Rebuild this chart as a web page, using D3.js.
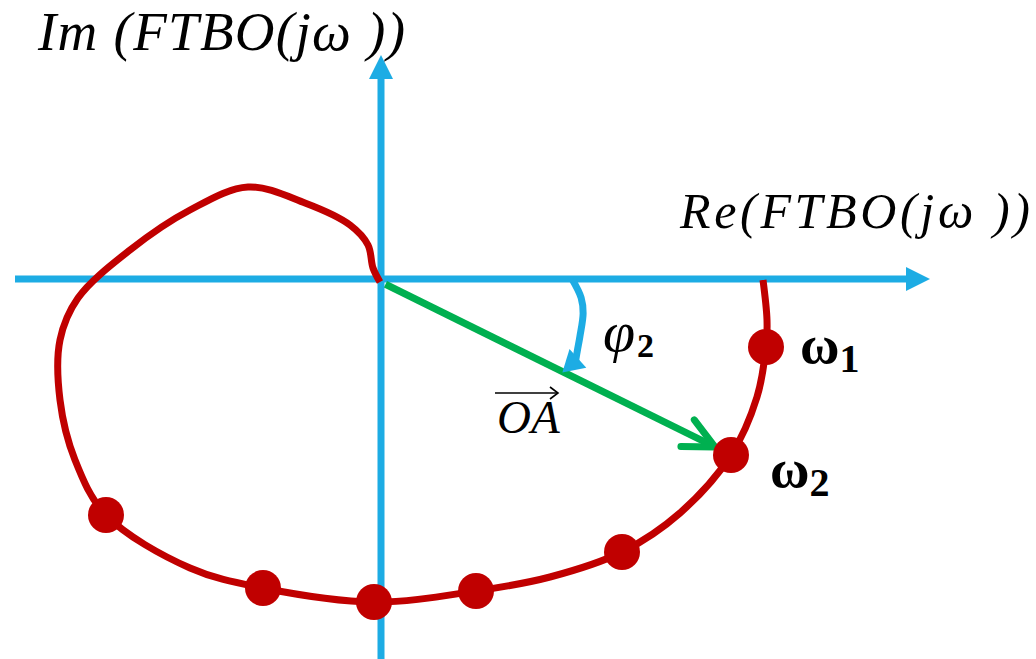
<!DOCTYPE html>
<html>
<head>
<meta charset="utf-8">
<script src="https://cdn.jsdelivr.net/npm/d3@7"></script>
<style>
  body { margin: 0; background: #fff; }
  svg { display: block; }
</style>
</head>
<body>
<div id="chart"></div>
<script>
// Nyquist locus of FTBO(jω) (1 unit = 100 px)
const curveRe = [3.82, 3.86, 3.85, 3.76, 3.50, 2.99, 2.41, 1.69, 0.95, -0.07, -1.18, -1.91,
  -2.75, -3.06, -3.21, -3.21, -3.03, -2.51, -1.91, -1.33, -0.76, -0.31, -0.13, -0.08, -0.01];
const curveIm = [-0.01, -0.41, -0.68, -1.18, -1.76, -2.34, -2.73, -2.98, -3.12, -3.23, -3.09, -2.89,
  -2.36, -1.81, -1.21, -0.61, -0.19, 0.29, 0.69, 0.92, 0.76, 0.54, 0.34, 0.11, -0.03];

// highlighted frequencies on the locus
const markerRe = [3.85, 3.50, 2.41, 0.95, -0.07, -1.18, -2.75];
const markerIm = [-0.68, -1.76, -2.73, -3.12, -3.23, -3.09, -2.36];
const markerNames = ["1", "2", "", "", "", "", ""];   // subscripts of ω
const vectorTarget = 1;                                // OA goes to ω2

// axis extents
const reAxisRange = [-3.66, 5.49];
const imAxisRange = [-3.80, 2.24];

const width = 1036, height = 659;
const blue = "#1DACE4", red = "#C00000", green = "#00B050";

const x = d3.scaleLinear().domain([-3.81, 6.55]).range([0, width]);
const y = d3.scaleLinear().domain([2.79, -3.80]).range([0, height]);

const svg = d3.select("#chart").append("svg")
  .attr("width", width)
  .attr("height", height);

// triangle arrow head, tip at (tx,ty), pointing along angle a
function headPath(tx, ty, a, len, half) {
  const bx = tx - len * Math.cos(a), by = ty - len * Math.sin(a);
  const nx = -Math.sin(a) * half, ny = Math.cos(a) * half;
  return `M${tx},${ty}L${bx + nx},${by + ny}L${bx - nx},${by - ny}Z`;
}

// axes
const x0 = x(0), y0 = y(0);
svg.append("line")
  .attr("x1", x(reAxisRange[0])).attr("x2", x(reAxisRange[1]) - 22)
  .attr("y1", y0).attr("y2", y0)
  .attr("stroke", blue).attr("stroke-width", 7);
svg.append("path")
  .attr("d", headPath(x(reAxisRange[1]), y0, 0, 24, 12))
  .attr("fill", blue);
svg.append("line")
  .attr("x1", x0).attr("x2", x0)
  .attr("y1", y(imAxisRange[0])).attr("y2", y(imAxisRange[1]) + 22)
  .attr("stroke", blue).attr("stroke-width", 7);
svg.append("path")
  .attr("d", headPath(x0, y(imAxisRange[1]), -Math.PI / 2, 24, 12))
  .attr("fill", blue);

// axis labels
svg.append("text")
  .attr("x", 38).attr("y", 50)
  .attr("textLength", 367).attr("lengthAdjust", "spacing")
  .style("font-family", "Liberation Serif, serif")
  .style("font-style", "italic")
  .style("font-size", "55px")
  .text("Im (FTBO(jω ))");
svg.append("text")
  .attr("x", 680).attr("y", 228)
  .attr("textLength", 350).attr("lengthAdjust", "spacing")
  .style("font-family", "Liberation Serif, serif")
  .style("font-style", "italic")
  .style("font-size", "50px")
  .text("Re(FTBO(jω ))");

// locus
const pts = curveRe.map((r, i) => [r, curveIm[i]]);
const line = d3.line()
  .x(d => x(d[0]))
  .y(d => y(d[1]))
  .curve(d3.curveCatmullRom.alpha(0.5));

svg.append("path")
  .attr("d", line(pts))
  .attr("fill", "none")
  .attr("stroke", red)
  .attr("stroke-width", 7);

// vector OA
const ax = x(markerRe[vectorTarget]), ay = y(markerIm[vectorTarget]);
const phi = Math.atan2(ay - y0, ax - x0);
const dotR = 18;
const len = Math.hypot(ax - x0, ay - y0) - dotR;
const tipX = x0 + len * Math.cos(phi), tipY = y0 + len * Math.sin(phi);
svg.append("line")
  .attr("x1", x0 + 5 * Math.cos(phi)).attr("y1", y0 + 5 * Math.sin(phi) + 3)
  .attr("x2", tipX).attr("y2", tipY)
  .attr("stroke", green).attr("stroke-width", 7);
const arm = 34, spread = 26 * Math.PI / 180;
svg.append("path")
  .attr("d", `M${tipX - arm * Math.cos(phi - spread)},${tipY - arm * Math.sin(phi - spread)}` +
    `L${tipX},${tipY}L${tipX - arm * Math.cos(phi + spread)},${tipY - arm * Math.sin(phi + spread)}`)
  .attr("fill", "none")
  .attr("stroke", green).attr("stroke-width", 7)
  .attr("stroke-linecap", "round").attr("stroke-linejoin", "round");

// markers
svg.selectAll("circle.marker")
  .data(markerRe.map((r, i) => ({ re: r, im: markerIm[i], name: markerNames[i] })))
  .enter()
  .append("circle")
  .attr("class", "marker")
  .attr("cx", d => x(d.re))
  .attr("cy", d => y(d.im))
  .attr("r", dotR)
  .attr("fill", red);

// ω labels
const omegaOffsets = [[34, 16], [39, 32]];
markerNames.forEach((n, i) => {
  if (!n) return;
  const t = svg.append("text")
    .attr("x", x(markerRe[i]) + omegaOffsets[i][0])
    .attr("y", y(markerIm[i]) + omegaOffsets[i][1])
    .style("font-family", "Liberation Serif, serif")
    .style("font-weight", "bold");
  t.append("tspan").style("font-size", "54px").text("ω");
  t.append("tspan").attr("dy", 9).style("font-size", "40px").text(n);
});

// angle arrow φ2 (shaft follows a slightly bulging arc, head lands on OA)
const arcR = 196;
const arcFr = [0, 0.2, 0.36, 0.6, 0.75, 0.85];
const arcDr = [-5, 5, 9, 11, 13, 15];
const arcPts = arcFr.map((f, i) => {
  const a = f * phi, r = arcR + arcDr[i];
  return [x0 + r * Math.cos(a), y0 + r * Math.sin(a)];
});
svg.append("path")
  .attr("d", d3.line().curve(d3.curveCatmullRom)(arcPts))
  .attr("fill", "none")
  .attr("stroke", blue).attr("stroke-width", 7);
const last = arcPts[arcPts.length - 1];
const hTip = [x0 + (arcR + 8) * Math.cos(phi + 0.01), y0 + (arcR + 8) * Math.sin(phi + 0.01)];
const hAng = Math.atan2(hTip[1] - last[1], hTip[0] - last[0]);
svg.append("path")
  .attr("d", headPath(hTip[0], hTip[1], hAng, 21, 12.5))
  .attr("fill", blue);

const phiLabel = svg.append("text")
  .attr("x", 603).attr("y", 351)
  .style("font-family", "Liberation Serif, serif");
phiLabel.append("tspan").style("font-style", "italic").style("font-size", "58px").text("φ");
phiLabel.append("tspan").attr("dx", 2).attr("dy", 6).style("font-weight", "bold").style("font-size", "34px").text("2");

// OA label with arrow over it
svg.append("text")
  .attr("x", 497).attr("y", 433)
  .style("font-family", "Liberation Serif, serif")
  .style("font-style", "italic")
  .style("font-size", "47px")
  .text("OA");
svg.append("line")
  .attr("x1", 495).attr("x2", 557).attr("y1", 393).attr("y2", 393)
  .attr("stroke", "#000").attr("stroke-width", 1.6);
svg.append("path")
  .attr("d", "M550,387L558,393L550,399")
  .attr("fill", "none").attr("stroke", "#000").attr("stroke-width", 1.6);
</script>
</body>
</html>
